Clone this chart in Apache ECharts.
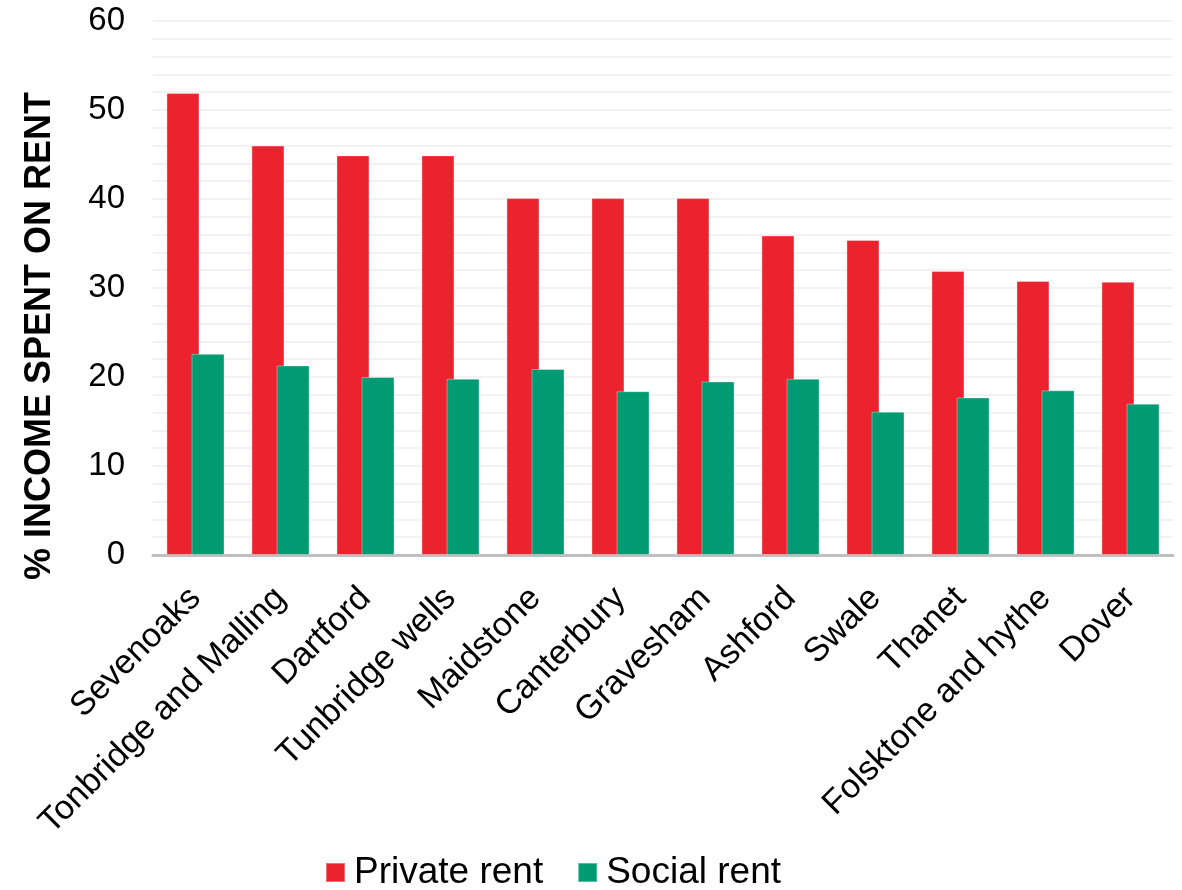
<!DOCTYPE html>
<html>
<head>
<meta charset="utf-8">
<script src="https://cdn.jsdelivr.net/npm/echarts@6/dist/echarts.min.js"></script>
<style>
html,body{margin:0;padding:0;background:#fff;}
#chart{width:1182px;height:890px;}
</style>
</head>
<body>
<div id="chart"></div>
<script>
const categories = ['Sevenoaks','Tonbridge and Malling','Dartford','Tunbridge wells','Maidstone','Canterbury','Gravesham','Ashford','Swale','Thanet','Folsktone and hythe','Dover'];
const privateRent = [51.9, 46.0, 44.9, 44.9, 40.1, 40.1, 40.1, 35.9, 35.4, 31.9, 30.8, 30.7];
const socialRent = [22.6, 21.3, 20.0, 19.8, 20.9, 18.4, 19.5, 19.8, 16.1, 17.7, 18.5, 17.0];
const yTicks = [0, 10, 20, 30, 40, 50, 60];

const FONT = 'Liberation Sans, Arial, sans-serif';
const chart = echarts.init(document.getElementById('chart'));
chart.setOption({
  animation: false,
  backgroundColor: '#ffffff',
  grid: {left: 153, right: 9, top: 21, bottom: 335, containLabel: false},
  legend: {
    left: 320, top: 849,
    itemWidth: 19, itemHeight: 19, itemGap: 34,
    icon: 'rect',
    textStyle: {fontFamily: FONT, fontSize: 37, color: '#000', padding: [0,0,0,4]},
    data: ['Private rent', 'Social rent']
  },
  xAxis: {
    type: 'category',
    data: categories,
    axisLine: {show: true, lineStyle: {color: '#BFBFBF', width: 3}},
    axisTick: {show: false},
    axisLabel: {rotate: 45, interval: 0, margin: 38, fontFamily: FONT, fontSize: 34, color: '#000'}
  },
  yAxis: {
    type: 'value',
    min: yTicks[0], max: yTicks[yTicks.length-1], interval: 10,
    name: '% INCOME SPENT ON RENT',
    nameLocation: 'middle', nameRotate: 90, nameGap: 95,
    nameTextStyle: {fontFamily: FONT, fontSize: 36, fontWeight: 'bold', color: '#000', padding: [0, 96, 0, 0]},
    axisLine: {show: false},
    axisTick: {show: false},
    axisLabel: {margin: 28, fontFamily: FONT, fontSize: 33, color: '#000'},
    splitLine: {show: true, lineStyle: {color: '#F2F2F2', width: 2}},
    minorTick: {show: false, splitNumber: 5},
    minorSplitLine: {show: true, lineStyle: {color: '#F2F2F2', width: 2}}
  },
  series: [
    {
      name: 'Private rent', type: 'bar', data: privateRent,
      barWidth: 33, barGap: '-24%', barCategoryGap: '32%',
      itemStyle: {color: '#EB232E', borderColor: 'rgba(255,255,255,0.35)', borderWidth: 1}
    },
    {
      name: 'Social rent', type: 'bar', data: socialRent,
      barWidth: 33, barGap: '-24%',
      itemStyle: {color: '#009A73', borderColor: 'rgba(255,255,255,0.35)', borderWidth: 1}
    }
  ]
});
</script>
</body>
</html>
